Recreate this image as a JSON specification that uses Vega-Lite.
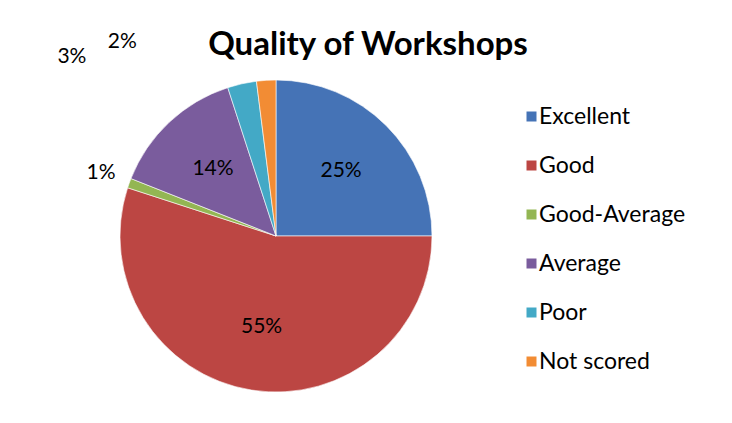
{
  "$schema": "https://vega.github.io/schema/vega-lite/v6.json",
  "width": 312,
  "height": 312,
  "autosize": {"type": "none"},
  "padding": {"left": 120, "top": 80, "right": 300, "bottom": 31},
  "background": "white",
  "config": {"view": {"stroke": null}, "font": "Lato"},
  "title": {
    "text": "Quality of Workshops",
    "anchor": "middle",
    "dx": 92,
    "dy": 51,
    "offset": 20,
    "fontSize": 33,
    "font": "Lato",
    "fontWeight": "bold",
    "color": "#000000"
  },
  "data": {
    "values": [
      {"category": "Excellent", "share": 0.25, "rank": 1},
      {"category": "Good", "share": 0.55, "rank": 2},
      {"category": "Good-Average", "share": 0.01, "rank": 3},
      {"category": "Average", "share": 0.14, "rank": 4},
      {"category": "Poor", "share": 0.03, "rank": 5},
      {"category": "Not scored", "share": 0.02, "rank": 6}
    ]
  },
  "encoding": {
    "theta": {"field": "share", "type": "quantitative", "stack": true},
    "order": {"field": "rank", "type": "quantitative"}
  },
  "layer": [
    {
      "mark": {"type": "arc", "stroke": "#ffffff", "strokeWidth": 0.6},
      "encoding": {
        "color": {
          "field": "category",
          "type": "nominal",
          "sort": ["Excellent", "Good", "Good-Average", "Average", "Poor", "Not scored"],
          "scale": {
            "domain": ["Excellent", "Good", "Good-Average", "Average", "Poor", "Not scored"],
            "range": ["#4573B6", "#BC4643", "#93B653", "#7A5C9D", "#43A9C6", "#F28C34"]
          },
          "legend": {
            "title": null,
            "orient": "none",
            "legendX": 400,
            "legendY": 25,
            "symbolType": "square",
            "symbolSize": 100,
            "symbolStrokeWidth": 0,
            "labelFont": "Lato",
            "labelFontSize": 23,
            "labelColor": "#000000",
            "labelOffset": -4,
            "rowPadding": 25,
            "labelLimit": 300
          }
        }
      }
    },
    {
      "mark": {"type": "text", "radius": 92, "font": "Lato", "fontSize": 21, "color": "#000000"},
      "encoding": {
        "text": {
          "condition": {"test": "datum.share >= 0.1", "field": "share", "format": ".0%"},
          "value": ""
        }
      }
    },
    {
      "mark": {"type": "text", "radius": 186, "font": "Lato", "fontSize": 21, "color": "#000000"},
      "encoding": {
        "text": {
          "condition": {"test": "datum.category === 'Good-Average'", "field": "share", "format": ".0%"},
          "value": ""
        }
      }
    },
    {
      "mark": {"type": "text", "radius": 170, "dx": -167, "dy": -13, "font": "Lato", "fontSize": 21, "color": "#000000"},
      "encoding": {
        "text": {
          "condition": {"test": "datum.category === 'Poor'", "field": "share", "format": ".0%"},
          "value": ""
        }
      }
    },
    {
      "mark": {"type": "text", "radius": 170, "dx": -143, "dy": -24, "font": "Lato", "fontSize": 21, "color": "#000000"},
      "encoding": {
        "text": {
          "condition": {"test": "datum.category === 'Not scored'", "field": "share", "format": ".0%"},
          "value": ""
        }
      }
    }
  ]
}
